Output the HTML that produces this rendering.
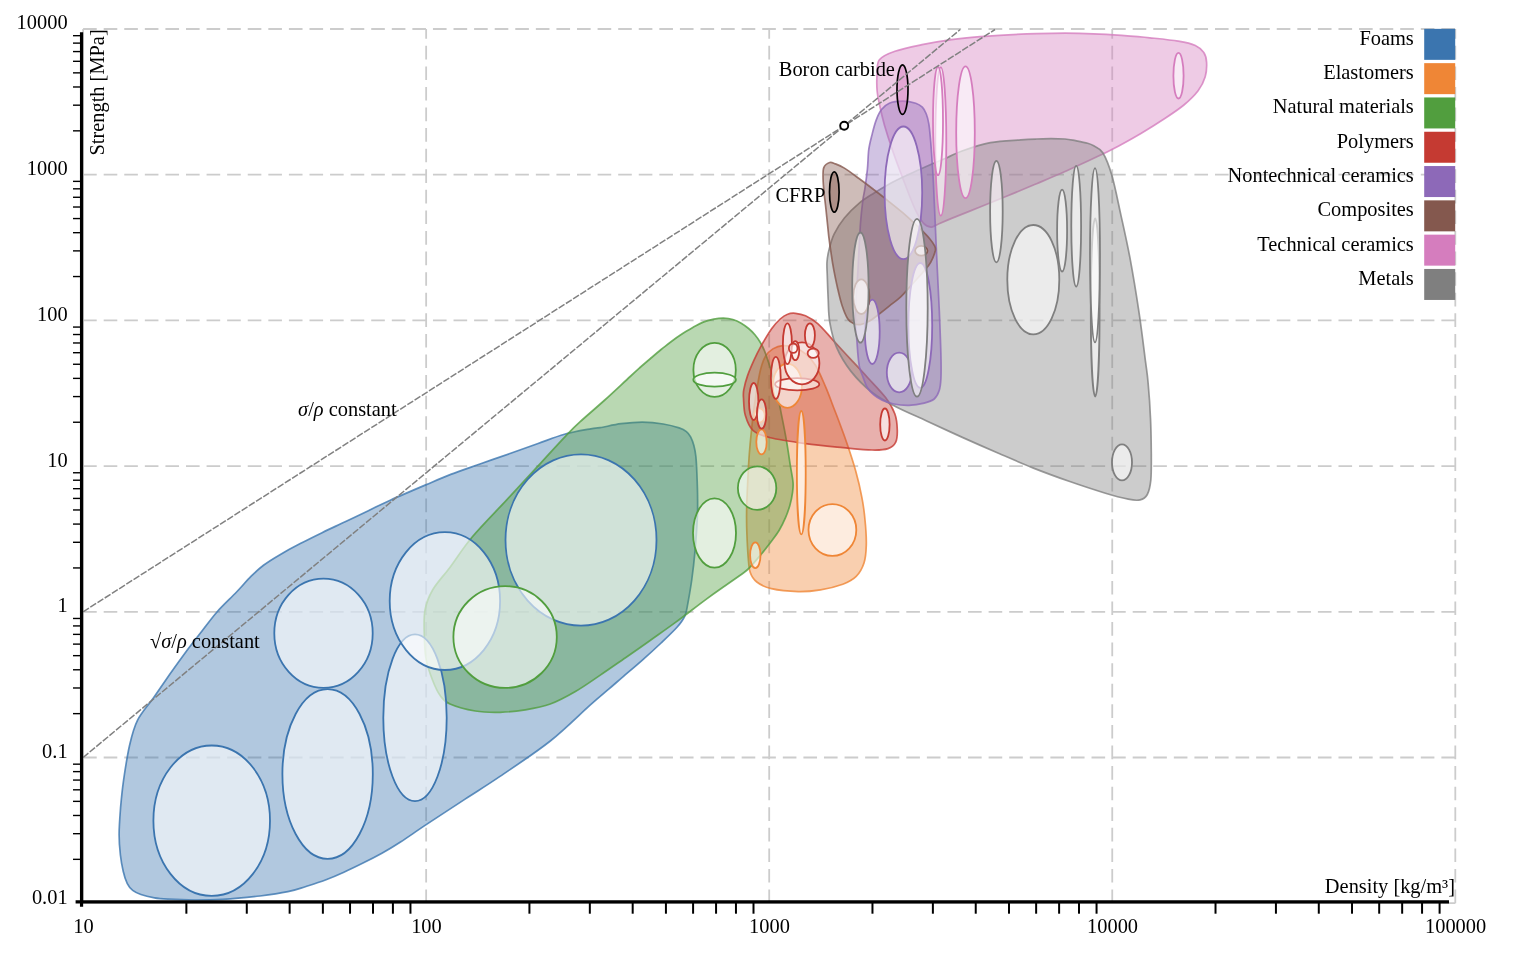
<!DOCTYPE html><html><head><meta charset="utf-8"><title>Ashby chart</title>
<style>html,body{margin:0;padding:0;background:#fff}svg{display:block;will-change:transform;filter:blur(0.4px)}text{font-family:"Liberation Serif","DejaVu Serif",serif;font-size:20.4px;fill:#000}.i{font-style:italic}</style></head><body>
<svg width="1518" height="954" viewBox="0 0 1518 954">
<rect width="1518" height="954" fill="#fff"/>
<g stroke="#cccccc" stroke-width="1.8" stroke-dasharray="13.62 6.96" fill="none">
<path d="M426.15,903.20V29.00"/>
<path d="M769.20,903.20V29.00"/>
<path d="M1112.25,903.20V29.00"/>
<path d="M1455.30,903.20V29.00"/>
<path d="M83.10,29.00H1455.30"/>
<path d="M83.10,174.70H1455.30"/>
<path d="M83.10,320.40H1455.30"/>
<path d="M83.10,466.10H1455.30"/>
<path d="M83.10,611.80H1455.30"/>
<path d="M83.10,757.50H1455.30"/>
</g>
<path d="M83.10,29.00V903.20H1455.30" stroke="#cccccc" stroke-width="1.8" fill="none"/>
<path d="M119.1,834.5C119.1,826.6 119.9,816.4 120.6,807.3C121.4,798.2 122.1,790.4 123.6,780.1C125.1,769.7 127.3,755.2 129.6,745.2C131.9,735.2 133.6,728.0 137.6,720.1C141.6,712.2 148.1,705.5 153.4,697.9C158.7,690.3 164.0,682.4 169.6,674.4C175.3,666.4 181.9,657.2 187.3,649.9C192.8,642.6 197.2,637.1 202.2,630.7C207.2,624.3 211.6,618.1 217.2,611.7C222.8,605.3 230.4,598.4 236.1,592.5C241.8,586.6 246.6,580.7 251.2,576.2C255.8,571.7 258.7,568.9 263.5,565.3C268.3,561.7 273.8,558.3 280.0,554.7C286.1,551.1 293.3,547.2 300.3,543.6C307.4,539.9 314.7,536.3 322.1,532.7C329.6,529.0 337.5,525.4 345.2,521.7C352.9,518.0 360.8,514.3 368.4,510.7C375.9,507.1 380.8,504.5 390.3,500.2C399.9,495.9 415.6,489.2 425.7,484.9C435.8,480.6 441.8,477.9 450.8,474.4C459.9,470.9 470.1,467.5 480.0,464.0C489.9,460.5 500.3,456.9 510.0,453.5C519.7,450.1 529.0,446.7 538.1,443.5C547.2,440.3 555.7,436.8 564.5,434.3C573.3,431.8 584.9,429.9 590.8,428.8C596.7,427.7 594.9,428.6 600.0,427.7C605.0,426.9 614.1,424.6 621.1,423.7C628.1,422.8 635.2,422.1 642.2,422.1C649.2,422.2 657.1,423.0 663.2,424.0C669.4,425.0 675.2,426.6 679.1,427.9C683.0,429.2 684.5,430.1 686.4,431.6C688.3,433.1 689.4,434.6 690.6,436.9C691.8,439.2 692.9,442.0 693.8,445.3C694.7,448.6 695.4,452.1 695.9,456.9C696.4,461.7 696.6,466.6 696.9,473.8C697.2,481.0 697.6,492.5 697.6,500.0C697.7,507.5 697.7,510.1 697.3,518.6C696.9,527.1 695.9,540.9 695.0,551.1C694.1,561.2 693.0,570.8 691.8,579.5C690.6,588.2 689.0,597.1 687.9,603.2C686.7,609.2 686.7,611.9 684.9,615.9C683.1,619.9 681.0,622.8 677.0,627.3C673.0,631.8 666.9,637.5 661.1,643.0C655.3,648.5 648.4,654.8 642.1,660.4C635.8,666.0 628.8,671.8 623.2,676.6C617.7,681.3 614.5,684.2 609.0,688.9C603.4,693.7 599.9,696.5 590.1,705.1C580.3,713.8 565.3,729.1 550.3,741.0C535.3,752.9 514.2,766.7 500.0,776.4C485.8,786.1 477.5,791.0 465.1,799.1C452.8,807.2 436.6,817.8 425.8,824.9C415.0,832.1 407.8,837.3 400.5,842.0C393.2,846.7 388.1,849.8 381.9,853.3C375.6,856.8 369.3,860.0 363.0,863.1C356.6,866.3 350.2,869.4 343.9,872.2C337.7,875.0 331.7,877.6 325.4,880.0C319.1,882.3 312.2,884.5 306.0,886.5C299.7,888.4 295.6,890.1 287.9,891.7C280.2,893.3 270.8,894.7 260.0,896.0C249.1,897.2 233.4,898.7 222.7,899.4C211.9,900.0 204.5,900.0 195.4,900.0C186.3,899.9 174.9,899.5 168.1,899.1C161.3,898.8 159.0,898.7 154.5,897.9C150.0,897.1 144.5,895.8 140.9,894.5C137.3,893.2 135.0,892.2 132.7,890.4C130.4,888.6 128.9,886.8 127.3,883.6C125.7,880.4 124.3,876.1 123.2,871.3C122.1,866.5 121.1,861.1 120.4,855.0C119.7,848.9 119.1,842.4 119.1,834.5Z" fill="#3b75af" fill-opacity="0.4" stroke="#3b75af" stroke-opacity="0.8" stroke-width="1.7"/>
<path d="M782.9,345.6C786.6,345.4 791.6,346.2 795.4,347.6C799.2,349.0 802.1,351.0 805.5,353.9C808.9,356.8 812.1,359.7 815.5,365.2C818.9,370.7 822.6,380.0 825.7,387.1C828.8,394.3 831.6,402.2 833.8,408.0C836.1,413.8 837.0,416.2 839.2,422.0C841.3,427.9 844.1,434.9 846.8,443.1C849.6,451.2 853.2,462.1 855.7,471.1C858.2,480.1 860.3,488.9 861.8,497.1C863.4,505.2 864.3,512.0 865.0,520.0C865.8,528.0 866.5,537.8 866.3,545.0C866.1,552.2 865.7,557.8 864.0,563.0C862.3,568.2 859.7,572.9 856.2,576.4C852.7,579.9 848.8,582.0 842.8,584.2C836.8,586.4 827.9,588.6 820.5,589.8C813.1,591.0 806.4,591.8 798.2,591.6C790.0,591.4 778.3,590.3 771.4,588.7C764.5,587.1 760.3,584.8 756.8,582.0C753.2,579.2 751.5,576.3 750.1,572.0C748.7,567.7 748.7,562.6 748.1,556.3C747.6,549.9 747.2,541.4 746.9,534.0C746.6,526.6 746.5,519.0 746.6,511.7C746.7,504.4 746.9,500.2 747.3,490.4C747.8,480.6 748.4,465.3 749.4,452.8C750.4,440.3 751.9,425.8 753.1,415.3C754.3,404.9 755.5,397.7 756.7,390.2C758.0,382.7 759.0,375.8 760.4,370.2C761.8,364.6 763.3,359.9 765.4,356.4C767.5,352.8 770.0,350.7 772.9,348.9C775.8,347.1 779.1,345.8 782.9,345.6Z" fill="#ef8636" fill-opacity="0.4" stroke="#ef8636" stroke-opacity="0.8" stroke-width="1.7"/>
<path d="M723.3,318.1C726.5,318.2 729.8,318.6 732.8,319.5C735.8,320.4 738.6,321.7 741.2,323.2C743.8,324.7 746.3,326.6 748.6,328.5C750.9,330.4 753.0,332.5 754.9,334.8C756.8,337.1 758.6,339.6 760.2,342.2C761.8,344.8 763.2,347.8 764.4,350.6C765.6,353.4 766.5,356.2 767.4,359.0C768.4,361.8 768.6,362.3 770.2,367.5C771.7,372.7 774.6,382.3 776.5,390.3C778.4,398.3 780.0,407.0 781.6,415.3C783.3,423.6 785.0,432.0 786.4,440.3C787.9,448.7 789.2,458.4 790.3,465.4C791.4,472.3 792.6,477.5 793.0,482.0C793.4,486.5 793.0,488.7 792.5,492.6C792.0,496.5 791.1,501.0 789.9,505.2C788.7,509.4 787.3,513.5 785.5,517.7C783.7,521.9 781.7,526.1 779.2,530.3C776.7,534.5 773.4,538.6 770.3,542.8C767.1,547.0 763.6,551.4 760.3,555.4C757.0,559.4 753.0,564.0 750.3,566.8C747.6,569.6 748.2,569.4 744.0,572.5C739.8,575.6 731.5,581.3 725.2,585.7C718.9,590.1 714.7,592.9 706.4,599.1C698.1,605.2 684.8,615.6 675.5,622.4C666.1,629.3 658.8,634.3 650.5,640.2C642.2,646.1 633.9,651.9 625.5,657.7C617.1,663.5 608.7,669.4 600.3,675.1C592.0,680.7 583.7,686.7 575.4,691.5C567.1,696.3 558.6,701.0 550.3,704.0C541.9,707.0 533.6,708.4 525.3,709.8C516.9,711.2 508.5,712.1 500.2,712.3C491.9,712.5 483.6,712.4 475.2,711.0C466.8,709.6 455.9,706.6 450.0,704.0C444.1,701.4 442.9,699.3 440.0,695.3C437.1,691.3 434.9,686.1 432.6,680.2C430.3,674.4 427.7,667.7 426.3,660.2C424.9,652.7 424.5,643.6 424.3,635.2C424.1,626.9 423.6,617.6 425.0,610.1C426.4,602.6 428.5,597.1 432.6,590.0C436.7,582.9 443.3,576.2 449.9,567.4C456.5,558.6 462.8,548.2 472.2,537.0C481.6,525.8 495.5,511.9 506.5,500.1C517.5,488.2 528.0,476.8 538.1,465.9C548.2,454.9 560.2,441.8 567.2,434.4C574.2,427.1 573.9,427.4 580.2,421.7C586.4,416.0 596.5,407.5 604.8,400.0C613.1,392.5 624.3,381.9 630.2,376.5C636.0,371.0 636.6,370.5 640.0,367.5C643.4,364.5 647.0,361.5 650.5,358.5C654.0,355.5 657.6,352.4 661.1,349.5C664.7,346.7 668.2,343.8 671.7,341.2C675.2,338.6 678.8,336.1 682.3,333.8C685.8,331.5 689.3,329.5 692.8,327.5C696.3,325.6 699.7,323.5 703.2,322.1C706.7,320.7 710.4,319.9 713.8,319.2C717.1,318.5 720.1,318.1 723.3,318.1Z" fill="#519e3e" fill-opacity="0.4" stroke="#519e3e" stroke-opacity="0.8" stroke-width="1.7"/>
<path d="M795.4,313.3C798.4,313.6 801.7,314.1 805.5,315.8C809.3,317.6 813.4,319.8 818.0,323.8C822.6,327.8 827.6,334.2 833.0,340.1C838.4,346.0 844.7,352.8 850.5,359.1C856.4,365.4 862.2,371.5 868.0,378.0C873.9,384.4 881.1,391.6 885.6,397.6C890.1,403.6 892.8,408.4 894.8,413.8C896.8,419.2 897.2,425.5 897.3,430.3C897.4,435.1 897.1,439.3 895.6,442.4C894.1,445.4 891.9,447.3 888.0,448.6C884.1,449.9 879.5,450.2 872.0,450.0C864.5,449.8 854.1,448.7 843.0,447.7C831.9,446.6 817.7,445.3 805.6,443.7C793.5,442.0 779.2,440.0 770.4,437.8C761.6,435.6 757.1,434.1 752.9,430.3C748.7,426.6 746.9,420.7 745.3,415.3C743.7,409.9 743.8,402.3 743.5,398.0C743.2,393.7 743.1,393.3 743.8,389.6C744.5,385.9 745.8,380.8 747.5,375.9C749.2,371.0 751.7,365.3 754.0,360.2C756.3,355.1 758.5,350.7 761.4,345.4C764.4,340.2 768.7,332.9 771.8,328.5C774.9,324.1 777.6,321.4 780.2,319.0C782.8,316.6 785.1,315.1 787.6,314.2C790.1,313.2 792.4,313.0 795.4,313.3Z" fill="#c53a32" fill-opacity="0.4" stroke="#c53a32" stroke-opacity="0.8" stroke-width="1.7"/>
<path d="M879.4,59.7C882.4,55.9 887.7,53.7 895.0,51.2C902.3,48.7 913.9,46.4 923.4,44.4C932.8,42.5 942.2,40.9 951.6,39.6C961.1,38.3 970.6,37.4 980.0,36.6C989.5,35.8 998.9,35.3 1008.3,34.8C1017.7,34.3 1027.2,33.9 1036.6,33.7C1046.1,33.4 1055.6,33.2 1065.0,33.2C1074.4,33.2 1083.9,33.4 1093.3,33.8C1102.7,34.1 1112.2,34.7 1121.6,35.4C1131.0,36.1 1140.4,36.8 1149.9,37.8C1159.3,38.8 1170.7,39.9 1178.3,41.2C1185.9,42.5 1191.0,43.6 1195.3,45.5C1199.5,47.4 1201.9,49.8 1203.8,52.6C1205.7,55.4 1206.4,58.5 1206.6,62.5C1206.8,66.5 1206.6,72.0 1205.2,76.7C1203.8,81.4 1201.6,86.1 1198.1,90.8C1194.5,95.5 1189.6,100.3 1183.9,105.0C1178.2,109.7 1171.1,114.3 1164.0,119.0C1156.9,123.7 1148.9,128.7 1141.3,133.2C1133.8,137.6 1126.7,141.7 1118.7,145.9C1110.7,150.2 1102.2,154.4 1093.2,158.6C1084.3,162.9 1074.4,167.3 1065.0,171.5C1055.5,175.7 1046.0,179.7 1036.6,183.7C1027.1,187.7 1017.7,191.7 1008.3,195.5C998.8,199.4 989.4,203.2 980.0,207.0C970.6,210.8 958.7,215.5 951.6,218.4C944.6,221.3 940.9,223.0 937.5,224.5C934.0,225.9 933.3,227.3 931.0,227.1C928.7,226.9 926.3,226.5 923.6,223.4C920.9,220.3 918.2,216.0 914.8,208.7C911.4,201.4 906.9,189.2 903.2,179.4C899.5,169.6 895.5,159.0 892.4,149.9C889.3,140.9 886.6,132.4 884.4,124.9C882.3,117.4 880.8,110.7 879.6,105.0C878.4,99.3 877.5,96.0 877.1,90.8C876.7,85.6 876.7,79.0 877.1,73.8C877.5,68.6 876.4,63.5 879.4,59.7Z" fill="#d57dbe" fill-opacity="0.4" stroke="#d57dbe" stroke-opacity="0.8" stroke-width="1.7"/>
<path d="M1036.6,139.0C1041.7,138.8 1046.5,138.7 1051.2,138.6C1055.9,138.6 1061.0,138.7 1065.0,139.0C1069.0,139.3 1071.7,140.0 1075.5,140.7C1079.2,141.4 1084.6,142.4 1087.6,143.2C1090.6,144.0 1091.2,144.2 1093.7,145.8C1096.2,147.4 1099.8,147.8 1102.8,152.8C1105.8,157.8 1108.9,165.2 1111.9,175.6C1114.9,186.0 1117.9,201.4 1120.9,215.1C1123.9,228.8 1126.8,241.5 1129.9,257.7C1132.9,273.9 1136.4,295.1 1139.0,312.3C1141.6,329.5 1143.9,349.1 1145.4,360.9C1147.0,372.7 1147.3,373.4 1148.1,383.0C1149.0,392.6 1150.0,406.8 1150.5,418.6C1151.1,430.5 1151.2,443.8 1151.3,454.1C1151.3,464.4 1151.5,473.5 1150.8,480.2C1150.1,486.9 1149.1,491.2 1147.3,494.5C1145.5,497.8 1143.3,499.1 1140.1,499.9C1136.9,500.7 1134.2,500.4 1128.3,499.2C1122.4,498.0 1114.6,496.0 1104.7,493.0C1094.8,490.0 1080.9,485.4 1069.1,481.3C1057.2,477.1 1045.4,472.8 1033.5,468.1C1021.7,463.4 1009.8,458.1 997.9,453.0C986.0,447.9 974.2,442.7 962.4,437.4C950.5,432.0 937.8,426.0 926.7,420.9C915.6,415.8 905.0,411.4 895.9,406.7C886.8,402.0 879.7,398.4 872.2,392.5C864.7,386.6 856.7,378.6 850.8,371.1C844.9,363.6 840.1,355.5 836.6,347.4C833.1,339.3 831.2,330.3 829.8,322.3C828.4,314.3 828.6,306.9 828.2,299.2C827.8,291.5 827.5,282.3 827.3,276.1C827.1,269.9 826.7,266.3 827.0,262.0C827.3,257.7 827.8,254.7 829.0,250.0C830.2,245.3 831.5,239.4 834.1,234.1C836.7,228.8 840.2,223.1 844.4,218.0C848.5,212.9 854.1,207.4 859.0,203.3C863.9,199.2 868.9,196.3 873.8,193.2C878.7,190.0 883.6,187.1 888.5,184.4C893.4,181.7 898.3,179.3 903.1,177.0C908.0,174.6 912.8,172.5 917.7,170.3C922.6,168.1 927.5,165.9 932.4,163.8C937.3,161.7 942.1,159.8 947.1,157.7C952.0,155.6 954.8,153.5 962.0,151.0C969.2,148.5 980.6,144.6 990.4,142.7C1000.2,140.8 1013.1,140.5 1020.8,139.9C1028.5,139.3 1031.5,139.2 1036.6,139.0Z" fill="#7f7f7f" fill-opacity="0.4" stroke="#7f7f7f" stroke-opacity="0.8" stroke-width="1.7"/>
<path d="M902.5,101.2C906.9,101.2 912.4,102.2 915.7,103.2C919.0,104.2 920.5,105.4 922.3,107.2C924.0,109.0 925.1,111.0 926.2,113.8C927.3,116.6 928.1,119.5 928.9,124.3C929.7,129.1 930.2,136.4 930.8,142.8C931.3,149.2 931.8,156.1 932.2,162.7C932.6,169.3 933.0,173.6 933.4,182.5C933.8,191.4 934.2,201.5 934.9,216.0C935.5,230.4 936.5,252.6 937.3,269.2C938.1,285.8 938.9,300.5 939.5,315.4C940.1,330.3 940.8,348.1 941.0,358.7C941.2,369.3 941.2,373.5 940.9,378.8C940.6,384.1 940.3,387.2 939.2,390.6C938.1,394.0 936.7,396.9 934.2,399.0C931.7,401.1 928.3,402.1 924.1,403.1C919.9,404.2 914.0,405.2 909.0,405.3C904.0,405.4 898.4,404.9 893.9,404.0C889.4,403.1 885.6,401.6 882.2,400.1C878.9,398.6 876.3,397.0 873.8,394.8C871.3,392.6 868.9,390.2 867.1,387.2C865.3,384.2 864.3,380.4 863.0,377.1C861.7,373.7 860.3,370.7 859.5,367.1C858.7,363.5 858.4,359.5 858.0,355.3C857.6,351.1 857.5,348.5 857.0,341.9C856.6,335.3 855.2,327.5 855.4,315.4C855.6,303.3 857.1,284.6 858.0,269.2C858.8,253.8 859.7,234.6 860.5,223.1C861.4,211.6 862.2,205.7 862.9,200.0C863.6,194.4 864.1,194.2 864.8,189.1C865.6,183.9 866.7,175.9 867.4,169.3C868.1,162.7 868.0,155.3 868.8,149.4C869.6,143.5 871.1,138.5 872.3,133.6C873.5,128.8 874.6,124.4 876.1,120.4C877.6,116.4 879.1,112.7 881.3,109.8C883.5,106.9 885.8,104.6 889.3,103.2C892.8,101.8 898.1,101.2 902.5,101.2Z" fill="#8d69b8" fill-opacity="0.4" stroke="#8d69b8" stroke-opacity="0.8" stroke-width="1.7"/>
<path d="M829.7,162.5C831.7,161.9 833.0,163.0 835.5,163.9C838.0,164.8 840.5,165.7 844.4,168.1C848.3,170.5 854.1,174.9 859.0,178.5C863.8,182.0 868.7,185.7 873.6,189.5C878.6,193.2 883.5,197.2 888.4,201.1C893.3,205.0 898.1,208.8 903.0,212.9C907.8,217.1 913.1,222.0 917.6,226.2C922.0,230.5 926.7,235.2 929.5,238.5C932.3,241.8 933.6,243.8 934.6,245.9C935.6,248.0 935.9,248.1 935.3,250.8C934.6,253.5 932.6,258.9 930.7,262.3C928.8,265.7 926.7,267.7 923.7,271.4C920.6,275.0 916.1,279.9 912.3,284.2C908.5,288.4 904.5,293.2 900.7,296.9C896.9,300.6 893.0,303.0 889.2,306.1C885.4,309.2 880.9,312.7 877.6,315.2C874.4,317.7 872.5,319.5 869.6,321.1C866.7,322.7 863.1,324.2 860.4,324.6C857.7,325.0 855.5,324.4 853.4,323.4C851.3,322.4 849.6,321.9 847.7,318.8C845.8,315.7 843.6,310.2 841.9,305.0C840.2,299.8 838.8,293.4 837.5,287.7C836.1,281.9 835.0,276.1 833.9,270.4C832.8,264.6 831.9,258.9 831.1,253.1C830.2,247.3 829.6,243.2 828.7,235.8C827.9,228.4 826.7,215.7 825.9,208.7C825.2,201.7 824.7,198.9 824.2,194.0C823.8,189.1 823.2,183.8 823.1,179.4C823.0,175.0 822.7,170.4 823.8,167.6C824.9,164.8 827.8,163.1 829.7,162.5Z" fill="#84584e" fill-opacity="0.4" stroke="#84584e" stroke-opacity="0.8" stroke-width="1.7"/>
<g fill="#fff" fill-opacity="0.6" stroke="#3b75af" stroke-width="1.8">
<ellipse cx="211.7" cy="820.7" rx="58.3" ry="75.2"/>
<ellipse cx="327.6" cy="774.0" rx="45.2" ry="84.9"/>
<ellipse cx="415.0" cy="717.8" rx="31.7" ry="83.4"/>
<ellipse cx="323.5" cy="633.2" rx="49.2" ry="54.6"/>
<ellipse cx="444.9" cy="601.1" rx="55.2" ry="68.9"/>
<ellipse cx="581.0" cy="540.0" rx="75.5" ry="85.7"/>
</g>
<g fill="#fff" fill-opacity="0.6" stroke="#ef8636" stroke-width="1.8">
<ellipse cx="787.4" cy="385.7" rx="14.6" ry="22.1"/>
<ellipse cx="759.5" cy="415.5" rx="5.3" ry="7.2"/>
<ellipse cx="801.3" cy="472.7" rx="4.4" ry="61.7"/>
<ellipse cx="832.4" cy="530.0" rx="23.9" ry="25.9"/>
<ellipse cx="755.3" cy="555.2" rx="5.2" ry="12.9"/>
<ellipse cx="761.5" cy="441.9" rx="5.2" ry="12.5"/>
</g>
<g fill="#fff" fill-opacity="0.6" stroke="#519e3e" stroke-width="1.8">
<ellipse cx="714.5" cy="533.0" rx="21.5" ry="34.7"/>
<ellipse cx="757.1" cy="488.1" rx="19.2" ry="21.8"/>
<ellipse cx="505.1" cy="637.0" rx="51.7" ry="50.9"/>
<ellipse cx="714.6" cy="369.9" rx="21.2" ry="27.0"/>
<ellipse cx="714.6" cy="379.7" rx="21.3" ry="7.0"/>
</g>
<g fill="#fff" fill-opacity="0.6" stroke="#c53a32" stroke-width="1.8">
<ellipse cx="797.2" cy="384.3" rx="22.1" ry="6.1"/>
<ellipse cx="802.0" cy="363.3" rx="17.4" ry="21.0"/>
<ellipse cx="775.8" cy="377.9" rx="4.9" ry="21.0"/>
<ellipse cx="787.4" cy="343.7" rx="4.5" ry="20.4"/>
<ellipse cx="809.9" cy="335.3" rx="5.0" ry="12.0"/>
<ellipse cx="795.3" cy="350.7" rx="3.9" ry="9.5"/>
<ellipse cx="793.2" cy="348.2" rx="4.3" ry="4.7"/>
<ellipse cx="813.2" cy="353.2" rx="5.6" ry="4.7"/>
<ellipse cx="753.7" cy="401.5" rx="4.7" ry="18.5"/>
<ellipse cx="761.6" cy="414.0" rx="4.7" ry="14.7"/>
<ellipse cx="884.9" cy="424.5" rx="4.7" ry="16.0"/>
</g>
<g fill="#fff" fill-opacity="0.6" stroke="#8d69b8" stroke-width="1.8">
<ellipse cx="903.4" cy="192.8" rx="18.8" ry="66.3"/>
<ellipse cx="920.3" cy="325.4" rx="11.9" ry="62.4"/>
<ellipse cx="872.3" cy="331.8" rx="7.4" ry="32.2"/>
<ellipse cx="899.2" cy="372.5" rx="12.4" ry="19.9"/>
</g>
<g fill="#fff" fill-opacity="0.6" stroke="#84584e" stroke-width="1.8">
<ellipse cx="861.3" cy="296.7" rx="8.1" ry="17.3"/>
<ellipse cx="921.3" cy="250.8" rx="6.2" ry="4.9"/>
</g>
<g fill="#fff" fill-opacity="0.6" stroke="#d57dbe" stroke-width="1.8">
<ellipse cx="1178.5" cy="75.7" rx="5.1" ry="22.8"/>
<ellipse cx="965.5" cy="132.3" rx="9.3" ry="65.9"/>
<ellipse cx="940.8" cy="141.5" rx="5.5" ry="74.2"/>
<ellipse cx="938.0" cy="121.0" rx="5.0" ry="54.2"/>
</g>
<g fill="#fff" fill-opacity="0.6" stroke="#7f7f7f" stroke-width="1.8">
<ellipse cx="996.4" cy="211.6" rx="6.3" ry="50.7"/>
<ellipse cx="1033.3" cy="279.7" rx="26.0" ry="54.7"/>
<ellipse cx="1062.1" cy="230.6" rx="5.0" ry="40.9"/>
<ellipse cx="1076.2" cy="226.2" rx="4.9" ry="60.4"/>
<ellipse cx="1095.2" cy="307.5" rx="4.4" ry="89.0"/>
<ellipse cx="1095.0" cy="255.3" rx="5.0" ry="87.1"/>
<ellipse cx="917.0" cy="307.7" rx="10.7" ry="88.9"/>
<ellipse cx="860.4" cy="287.6" rx="8.2" ry="55.1"/>
<ellipse cx="1122.0" cy="462.4" rx="10.0" ry="18.0"/>
</g>
<ellipse cx="902.5" cy="89.6" rx="5.5" ry="24.7" fill="#d57dbe" fill-opacity="0.45" stroke="#000" stroke-width="1.7"/>
<ellipse cx="834.3" cy="192.0" rx="4.8" ry="20.2" fill="#84584e" fill-opacity="0.45" stroke="#000" stroke-width="1.7"/>
<g stroke="#808080" stroke-width="1.5" stroke-dasharray="6.9 1.65" fill="none">
<path d="M83.10,611.80L995.01,29.50"/>
<path d="M83.10,757.50L960.23,29.50"/>
</g>
<circle cx="844.2" cy="125.8" r="4.0" fill="#fff" stroke="#000" stroke-width="1.9"/>
<text x="894.9" y="75.8" text-anchor="end">Boron carbide</text>
<text x="825.3" y="202.3" text-anchor="end">CFRP</text>
<text x="298.1" y="416.4" text-anchor="start"><tspan class="i">σ</tspan>/<tspan class="i">ρ</tspan> constant</text>
<text x="150.0" y="648.4" text-anchor="start">√<tspan class="i">σ</tspan>/<tspan class="i">ρ</tspan> constant</text>
<rect x="1424.20" y="28.85" width="31.00" height="31.00" fill="#3b75af"/>
<text x="1413.8" y="44.8" text-anchor="end">Foams</text>
<rect x="1424.20" y="63.15" width="31.00" height="31.00" fill="#ef8636"/>
<text x="1413.8" y="79.1" text-anchor="end">Elastomers</text>
<rect x="1424.20" y="97.45" width="31.00" height="31.00" fill="#519e3e"/>
<text x="1413.8" y="113.4" text-anchor="end">Natural materials</text>
<rect x="1424.20" y="131.75" width="31.00" height="31.00" fill="#c53a32"/>
<text x="1413.8" y="147.7" text-anchor="end">Polymers</text>
<rect x="1424.20" y="166.05" width="31.00" height="31.00" fill="#8d69b8"/>
<text x="1413.8" y="182.0" text-anchor="end">Nontechnical ceramics</text>
<rect x="1424.20" y="200.35" width="31.00" height="31.00" fill="#84584e"/>
<text x="1413.8" y="216.3" text-anchor="end">Composites</text>
<rect x="1424.20" y="234.65" width="31.00" height="31.00" fill="#d57dbe"/>
<text x="1413.8" y="250.6" text-anchor="end">Technical ceramics</text>
<rect x="1424.20" y="268.95" width="31.00" height="31.00" fill="#7f7f7f"/>
<text x="1413.8" y="284.9" text-anchor="end">Metals</text>
<g stroke="#000" stroke-width="1.4">
<path d="M73.00,859.34H81.50"/>
<path d="M73.00,833.68H81.50"/>
<path d="M73.00,815.48H81.50"/>
<path d="M73.00,801.36H81.50"/>
<path d="M73.00,789.82H81.50"/>
<path d="M73.00,780.07H81.50"/>
<path d="M73.00,771.62H81.50"/>
<path d="M73.00,764.17H81.50"/>
<path d="M73.00,713.64H81.50"/>
<path d="M73.00,687.98H81.50"/>
<path d="M73.00,669.78H81.50"/>
<path d="M73.00,655.66H81.50"/>
<path d="M73.00,644.12H81.50"/>
<path d="M73.00,634.37H81.50"/>
<path d="M73.00,625.92H81.50"/>
<path d="M73.00,618.47H81.50"/>
<path d="M73.00,567.94H81.50"/>
<path d="M73.00,542.28H81.50"/>
<path d="M73.00,524.08H81.50"/>
<path d="M73.00,509.96H81.50"/>
<path d="M73.00,498.42H81.50"/>
<path d="M73.00,488.67H81.50"/>
<path d="M73.00,480.22H81.50"/>
<path d="M73.00,472.77H81.50"/>
<path d="M73.00,422.24H81.50"/>
<path d="M73.00,396.58H81.50"/>
<path d="M73.00,378.38H81.50"/>
<path d="M73.00,364.26H81.50"/>
<path d="M73.00,352.72H81.50"/>
<path d="M73.00,342.97H81.50"/>
<path d="M73.00,334.52H81.50"/>
<path d="M73.00,327.07H81.50"/>
<path d="M73.00,276.54H81.50"/>
<path d="M73.00,250.88H81.50"/>
<path d="M73.00,232.68H81.50"/>
<path d="M73.00,218.56H81.50"/>
<path d="M73.00,207.02H81.50"/>
<path d="M73.00,197.27H81.50"/>
<path d="M73.00,188.82H81.50"/>
<path d="M73.00,181.37H81.50"/>
<path d="M73.00,130.84H81.50"/>
<path d="M73.00,105.18H81.50"/>
<path d="M73.00,86.98H81.50"/>
<path d="M73.00,72.86H81.50"/>
<path d="M73.00,61.32H81.50"/>
<path d="M73.00,51.57H81.50"/>
<path d="M73.00,43.12H81.50"/>
<path d="M73.00,35.67H81.50"/>
</g>
<g stroke="#000" stroke-width="2.0">
<path d="M186.37,901.80V913.70"/>
<path d="M246.78,901.80V913.70"/>
<path d="M289.64,901.80V913.70"/>
<path d="M322.88,901.80V913.70"/>
<path d="M350.04,901.80V913.70"/>
<path d="M373.01,901.80V913.70"/>
<path d="M392.91,901.80V913.70"/>
<path d="M410.45,901.80V913.70"/>
<path d="M529.42,901.80V913.70"/>
<path d="M589.83,901.80V913.70"/>
<path d="M632.69,901.80V913.70"/>
<path d="M665.93,901.80V913.70"/>
<path d="M693.09,901.80V913.70"/>
<path d="M716.06,901.80V913.70"/>
<path d="M735.96,901.80V913.70"/>
<path d="M753.50,901.80V913.70"/>
<path d="M872.47,901.80V913.70"/>
<path d="M932.88,901.80V913.70"/>
<path d="M975.74,901.80V913.70"/>
<path d="M1008.98,901.80V913.70"/>
<path d="M1036.14,901.80V913.70"/>
<path d="M1059.11,901.80V913.70"/>
<path d="M1079.01,901.80V913.70"/>
<path d="M1096.55,901.80V913.70"/>
<path d="M1215.52,901.80V913.70"/>
<path d="M1275.93,901.80V913.70"/>
<path d="M1318.79,901.80V913.70"/>
<path d="M1352.03,901.80V913.70"/>
<path d="M1379.19,901.80V913.70"/>
<path d="M1402.16,901.80V913.70"/>
<path d="M1422.06,901.80V913.70"/>
<path d="M1439.60,901.80V913.70"/>
</g>
<path d="M81.55,32.15V906.7M75.6,901.8H1449" stroke="#000" stroke-width="3.2" fill="none"/>
<text x="67.6" y="29.40" text-anchor="end">10000</text>
<text x="67.6" y="175.10" text-anchor="end">1000</text>
<text x="67.6" y="320.80" text-anchor="end">100</text>
<text x="67.6" y="466.50" text-anchor="end">10</text>
<text x="67.6" y="612.20" text-anchor="end">1</text>
<text x="67.6" y="757.90" text-anchor="end">0.1</text>
<text x="67.6" y="903.60" text-anchor="end">0.01</text>
<text x="83.40" y="933.0" text-anchor="middle">10</text>
<text x="426.45" y="933.0" text-anchor="middle">100</text>
<text x="769.50" y="933.0" text-anchor="middle">1000</text>
<text x="1112.55" y="933.0" text-anchor="middle">10000</text>
<text x="1455.60" y="933.0" text-anchor="middle">100000</text>
<text transform="translate(104.3,29.3) rotate(-90)" text-anchor="end">Strength [MPa]</text>
<text x="1455.0" y="893.3" text-anchor="end">Density [kg/m³]</text>
</svg></body></html>
